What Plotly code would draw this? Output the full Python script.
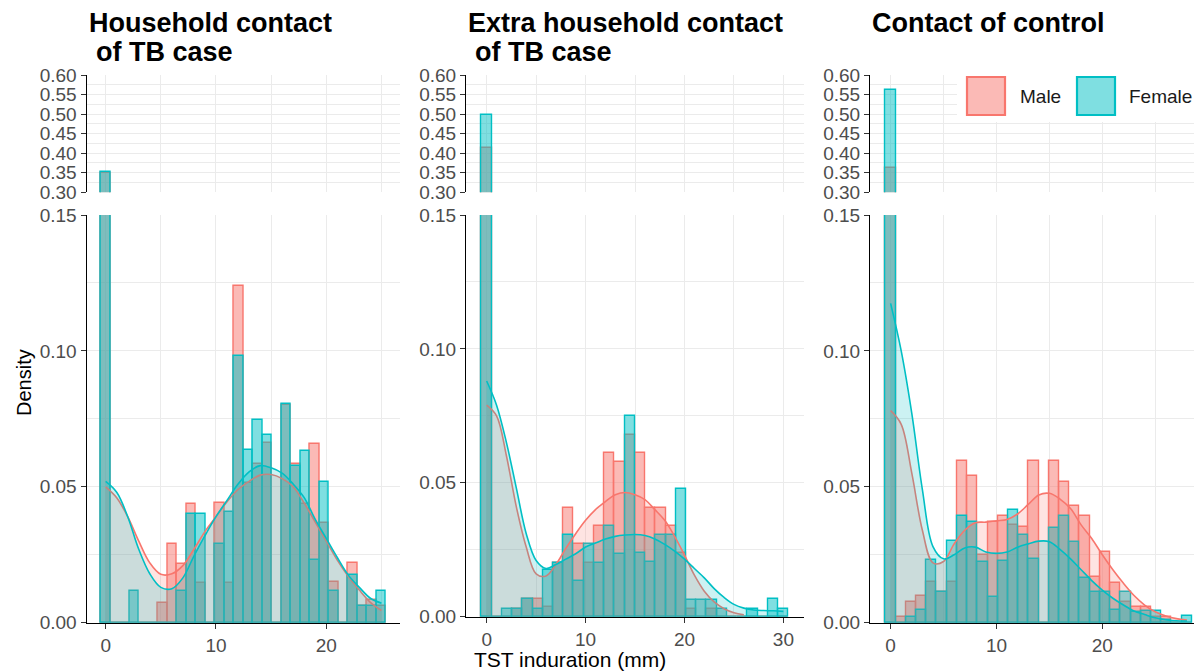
import plotly.graph_objects as go

# ---------------- data ----------------
panels = ["Household contact", "Extra household contact", "Contact of control"]
sexes = ["Male", "Female"]

# histogram (density per bin), 30 bins spanning [min, max] of TST induration
p1_range = [0, 25]
p1_male = [0.350, 0, 0, 0, 0, 0, 0.0072, 0.029, 0.0216, 0.0437, 0.0145, 0, 0.044, 0.0145, 0.124,
           0.0515, 0.0585, 0.066, 0, 0.080, 0.0585, 0.0437, 0.0658, 0.0366, 0.0148, 0, 0.022, 0.006, 0.0083, 0.006]
p1_female = [0.352, 0, 0, 0.0115, 0, 0, 0, 0, 0.0115, 0.040, 0.040, 0, 0.0288, 0.0407, 0.098,
             0.0635, 0.0745, 0.069, 0, 0.0805, 0.0575, 0.0632, 0.0232, 0.0516, 0.0117, 0, 0.0175, 0.006, 0.006, 0.0117]

p2_range = [0, 30]
p2_male = [0.4125, 0, 0, 0.003, 0.0065, 0.0065, 0.0035, 0.020, 0.0405, 0.027, 0.0202, 0.034, 0.0611, 0.0579, 0.068,
           0.0611, 0.0405, 0.0405, 0.034, 0.0237, 0.003, 0, 0.003, 0, 0, 0, 0, 0, 0, 0]
p2_female = [0.4977, 0, 0.003, 0.003, 0.0065, 0.003, 0.0175, 0.020, 0.0306, 0.0135, 0.0272, 0.0202, 0.034, 0.0235, 0.0751,
             0.0237, 0.0206, 0.0306, 0.0306, 0.0477, 0.0062, 0.0062, 0.0062, 0.003, 0, 0, 0.003, 0, 0.0065, 0.003]

p3_range = [0, 28]
p3_male = [0.361, 0.002, 0.0075, 0.0097, 0.0148, 0.0114, 0.0148, 0.0596, 0.054, 0.025, 0.0372, 0.0394, 0.036, 0.0353, 0.0596,
           0, 0.0596, 0.0519, 0.0429, 0.0392, 0.0169, 0.0261, 0.0147, 0.0077, 0.0059, 0.0059, 0.0022, 0.0022, 0, 0]
p3_female = [0.5616, 0, 0.0022, 0.0047, 0.023, 0.0114, 0.030, 0.0393, 0.0372, 0.0225, 0.0093, 0.0227, 0.0415, 0.0323, 0.0233,
             0, 0.0347, 0.0392, 0.0298, 0.0166, 0.0114, 0.0114, 0.0047, 0.0114, 0.004, 0.0044, 0.0044, 0.001, 0, 0.0026]

# density curves (read at integer mm)
p1_dens_x_m = list(range(0, 26))
p1_dens_m = [0.050, 0.046, 0.039, 0.030, 0.022, 0.0178, 0.018, 0.021, 0.027, 0.0335, 0.039, 0.0445, 0.049,
             0.052, 0.0543, 0.0545, 0.053, 0.050, 0.044, 0.037, 0.030, 0.023, 0.017, 0.012, 0.0075, 0.0045]
p1_dens_x_f = list(range(0, 26))
p1_dens_f = [0.052, 0.048, 0.039, 0.027, 0.018, 0.013, 0.0125, 0.0165, 0.0245, 0.032, 0.039, 0.045, 0.051,
             0.0555, 0.0578, 0.057, 0.055, 0.051, 0.046, 0.038, 0.031, 0.024, 0.0175, 0.013, 0.009, 0.0072]

p2_dens_x_m = list(range(0, 27))
p2_dens_m = [0.079, 0.075, 0.060, 0.041, 0.026, 0.016, 0.0152, 0.0195, 0.0255, 0.031, 0.036, 0.040, 0.043, 0.0455,
             0.0464, 0.0455, 0.0437, 0.040, 0.036, 0.030, 0.023, 0.0155, 0.0095, 0.0055, 0.003, 0.0015, 0.0007]
p2_dens_x_f = list(range(0, 31))
p2_dens_f = [0.088, 0.079, 0.065, 0.048, 0.031, 0.021, 0.018, 0.0195, 0.0215, 0.0235, 0.026, 0.0275, 0.029, 0.030,
             0.0305, 0.0307, 0.0303, 0.029, 0.027, 0.0245, 0.0215, 0.018, 0.0145, 0.0105, 0.0072, 0.0046, 0.0032,
             0.0025, 0.0023, 0.0022, 0.002]

p3_dens_x_m = list(range(0, 29))
p3_dens_m = [0.078, 0.073, 0.055, 0.034, 0.022, 0.0225, 0.029, 0.034, 0.0368, 0.037, 0.0375, 0.038, 0.040, 0.0435,
             0.047, 0.0476, 0.0455, 0.042, 0.036, 0.031, 0.025, 0.0195, 0.0145, 0.010, 0.0065, 0.004, 0.0025, 0.0015, 0.001]
p3_dens_x_f = list(range(0, 29))
p3_dens_f = [0.1175, 0.100, 0.077, 0.049, 0.028, 0.0235, 0.025, 0.0275, 0.0278, 0.026, 0.0255, 0.026, 0.0278, 0.029,
             0.030, 0.0298, 0.027, 0.0235, 0.0195, 0.0155, 0.012, 0.009, 0.0065, 0.0043, 0.003, 0.0018, 0.0011, 0.0007, 0.0006]

x_ticks = [0, 10, 20, 30]
y_ticks_low = [0.00, 0.05, 0.10, 0.15]
y_ticks_high = [0.30, 0.35, 0.40, 0.45, 0.50, 0.55, 0.60]

# ---------------- styling / layout ----------------
W, H = 1202, 672
PAGE_OFF = 8  # default page body margin
FONT = "Liberation Sans, Arial, sans-serif"
MALE = "#F8766D"
FEMALE = "#00BFC4"
MALE_BAR = "rgba(248,118,109,0.5)"
FEMALE_BAR = "rgba(0,191,196,0.5)"
MALE_DEN = "rgba(248,118,109,0.2)"
FEMALE_DEN = "rgba(0,191,196,0.2)"
GRID = "#EBEBEB"
TICKC = "#4D4D4D"


def px(x):
    return (x - PAGE_OFF) / W


def py(y):
    return 1 - (y - PAGE_OFF) / H


# pixel geometry per panel (screen pixels)
geo = [
    dict(x0=86.7, x1=400.4, xr=[-1.72, 26.72], yz=622.7, xt=[0, 10, 20]),
    dict(x0=466.2, x1=803.9, xr=[-2.07, 32.07], yz=616.7, xt=[0, 10, 20, 30]),
    dict(x0=870.2, x1=1202.0, xr=[-1.93, 29.42], yz=622.7, xt=[0, 10, 20]),
]
hist = [(p1_range, p1_male, p1_female), (p2_range, p2_male, p2_female), (p3_range, p3_male, p3_female)]
dens = [
    (p1_dens_x_m, p1_dens_m, p1_dens_x_f, p1_dens_f),
    (p2_dens_x_m, p2_dens_m, p2_dens_x_f, p2_dens_f),
    (p3_dens_x_m, p3_dens_m, p3_dens_x_f, p3_dens_f),
]

fig = go.Figure()
layout = {}

for i in range(3):
    g = geo[i]
    b = 2 * i + 1   # bottom subplot index
    t = 2 * i + 2   # top subplot index
    rng, vm, vf = hist[i]
    nb = len(vm)
    bw = (rng[1] - rng[0]) / (nb - 1)
    centers = [rng[0] + k * bw for k in range(nb)]

    for idx in (b, t):
        sfx = "" if idx == 1 else str(idx)
        for vals, fc, lc, nm in ((vm, MALE_BAR, MALE, "Male"), (vf, FEMALE_BAR, FEMALE, "Female")):
            fig.add_trace(go.Bar(x=centers, y=vals, width=bw, name=nm, showlegend=False,
                                 marker=dict(color=fc, line=dict(color=lc, width=1.4)),
                                 xaxis="x" + sfx, yaxis="y" + sfx))

    dxm, dm, dxf, df = dens[i]
    sfx = "" if b == 1 else str(b)
    fig.add_trace(go.Scatter(x=dxm, y=dm, mode="lines", line=dict(color=MALE, width=1.6, shape="spline"),
                             fill="tozeroy", fillcolor=MALE_DEN, showlegend=False,
                             xaxis="x" + sfx, yaxis="y" + sfx))
    fig.add_trace(go.Scatter(x=dxf, y=df, mode="lines", line=dict(color=FEMALE, width=1.6, shape="spline"),
                             fill="tozeroy", fillcolor=FEMALE_DEN, showlegend=False,
                             xaxis="x" + sfx, yaxis="y" + sfx))

    xdom = [px(g["x0"]), min(1.0, px(g["x1"]))]
    common_x = dict(domain=xdom, range=g["xr"], showgrid=True, gridcolor=GRID, gridwidth=1.3,
                    minor=dict(tick0=0, dtick=5, showgrid=True, gridcolor=GRID, gridwidth=0.9),
                    zeroline=False, fixedrange=True, automargin=False)
    xb_name = "xaxis" if b == 1 else "xaxis%d" % b
    xt_name = "xaxis%d" % t
    layout[xb_name] = dict(common_x, anchor="y" if b == 1 else "y%d" % b,
                           tickmode="array", tickvals=g["xt"], ticktext=[str(v) for v in g["xt"]],
                           ticks="outside", ticklen=5, tickwidth=1.2, tickcolor="#333333",
                           tickfont=dict(family=FONT, size=19, color=TICKC),
                           showline=True, linecolor="black", linewidth=1.4)
    layout[xt_name] = dict(common_x, anchor="y%d" % t, tickmode="array", tickvals=g["xt"],
                           showticklabels=False, ticks="", showline=False)

    yz = g["yz"]
    yb_name = "yaxis" if b == 1 else "yaxis%d" % b
    yt_name = "yaxis%d" % t
    common_y = dict(showgrid=True, gridcolor=GRID, gridwidth=1.3, zeroline=False, fixedrange=True,
                    ticks="outside", ticklen=5, tickwidth=1.2, tickcolor="#333333",
                    tickfont=dict(family=FONT, size=19, color=TICKC), tickformat=".2f",
                    showline=True, linecolor="black", linewidth=1.4, tickmode="array", automargin=False)
    layout[yb_name] = dict(common_y, domain=[py(yz), py(215.0)], range=[0, 0.15],
                           anchor="x" if b == 1 else "x%d" % b, tickvals=y_ticks_low,
                           minor=dict(tickmode="array", tickvals=[0.025, 0.075, 0.125], ticks="",
                                      showgrid=True, gridcolor=GRID, gridwidth=0.9))
    layout[yt_name] = dict(common_y, domain=[py(192.3), py(75.0)], range=[0.30, 0.60],
                           anchor="x%d" % t, tickvals=y_ticks_high,
                           minor=dict(tickmode="array", tickvals=[0.325, 0.375, 0.425, 0.475, 0.525, 0.575],
                                      ticks="", showgrid=True, gridcolor=GRID, gridwidth=0.9))

annotations = []
title_font = dict(family=FONT, size=27, color="black", weight="bold")
annotations.append(dict(text=panels[0], x=px(87), y=py(23), xanchor="left", yanchor="middle",
                        xref="paper", yref="paper", showarrow=False, font=title_font))
annotations.append(dict(text="of TB case", x=px(94), y=py(52), xanchor="left", yanchor="middle",
                        xref="paper", yref="paper", showarrow=False, font=title_font))
annotations.append(dict(text=panels[1], x=px(466), y=py(23), xanchor="left", yanchor="middle",
                        xref="paper", yref="paper", showarrow=False, font=title_font))
annotations.append(dict(text="of TB case", x=px(473), y=py(52), xanchor="left", yanchor="middle",
                        xref="paper", yref="paper", showarrow=False, font=title_font))
annotations.append(dict(text=panels[2], x=px(870), y=py(23), xanchor="left", yanchor="middle",
                        xref="paper", yref="paper", showarrow=False, font=title_font))
annotations.append(dict(text="Density", x=px(24), y=py(383), xanchor="center", yanchor="middle", textangle=-90,
                        xref="paper", yref="paper", showarrow=False,
                        font=dict(family=FONT, size=20, color="black")))
annotations.append(dict(text="TST induration (mm)", x=px(570), y=py(659), xanchor="center", yanchor="middle",
                        xref="paper", yref="paper", showarrow=False,
                        font=dict(family=FONT, size=21, color="black")))
leg_font = dict(family=FONT, size=19, color="#1A1A1A")
annotations.append(dict(text=sexes[0], x=px(1018), y=py(97), xanchor="left", yanchor="middle",
                        xref="paper", yref="paper", showarrow=False, font=leg_font))
annotations.append(dict(text=sexes[1], x=px(1127), y=py(97), xanchor="left", yanchor="middle",
                        xref="paper", yref="paper", showarrow=False, font=leg_font))

shapes = [
    dict(type="rect", xref="paper", yref="paper", x0=px(957), x1=1.0, y0=py(122), y1=py(66),
         fillcolor="white", line=dict(width=0), layer="above"),
    dict(type="rect", xref="paper", yref="paper", x0=px(967), x1=px(1005), y0=py(115), y1=py(77),
         fillcolor=MALE_BAR, line=dict(color=MALE, width=2.2), layer="above"),
    dict(type="rect", xref="paper", yref="paper", x0=px(1077), x1=px(1115), y0=py(115), y1=py(77),
         fillcolor=FEMALE_BAR, line=dict(color=FEMALE, width=2.2), layer="above"),
]

fig.update_layout(width=W, height=H, margin=dict(l=0, r=0, t=0, b=0, pad=0, autoexpand=False),
                  barmode="overlay", bargap=0,
                  plot_bgcolor="white", paper_bgcolor="white", showlegend=False,
                  annotations=annotations, shapes=shapes, font=dict(family=FONT), **layout)

fig.write_html("out.html")
